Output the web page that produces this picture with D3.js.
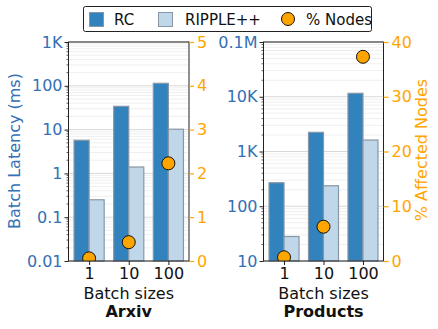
<!DOCTYPE html>
<html>
<head>
<meta charset="utf-8">
<script src="https://cdn.jsdelivr.net/npm/d3@7"></script>
<style>
  body { margin: 0; background: #fff; }
  text { font-family: "DejaVu Sans", sans-serif; }
</style>
</head>
<body>
<div id="chart"></div>
<script>
// data
const batchSizes = ["1", "10", "100"];
const arxivRC = [5.7, 34, 114];
const arxivRipple = [0.25, 1.4, 10.2];
const arxivNodes = [0.06, 0.43, 2.23];
const productsRC = [269, 2240, 11560];
const productsRipple = [28, 237, 1620];
const productsNodes = [0.68, 6.26, 37.3];

const arxivTicks = [0.01, 0.1, 1, 10, 100, 1000];
const arxivTickLabels = ["0.01", "0.1", "1", "10", "100", "1K"];
const productsTicks = [10, 100, 1000, 10000, 100000];
const productsTickLabels = ["10", "100", "1K", "10K", "0.1M"];
const arxivNodeTicks = [0, 1, 2, 3, 4, 5];
const productsNodeTicks = [0, 10, 20, 30, 40];

const blueText = "#3370b5";
const rcColor = "#3182bd";
const rippleColor = "#bfd7e9";
const orange = "#ffa500";

var width = 438, height = 329;
var plotTop = 42, plotBottom = 261;

var svg = d3.select("#chart")
  .append("svg")
    .attr("width", width)
    .attr("height", height);

function panel(opts) {
  var x0 = opts.x0, x1 = opts.x1;
  var g = svg.append("g");

  var x = d3.scaleLinear().domain([-0.52, 2.52]).range([x0, x1]);
  var y = d3.scaleLog().domain(opts.yDomain).range([plotBottom, plotTop]);
  var y2 = d3.scaleLinear().domain(opts.y2Domain).range([plotBottom, plotTop]);
  var bw = 0.38;

  // log grid, minor then major
  var minor = [];
  var lo = Math.log10(opts.yDomain[0]), hi = Math.log10(opts.yDomain[1]);
  for (var e = lo; e < hi; e++) {
    for (var m = 2; m < 10; m++) minor.push(m * Math.pow(10, e));
  }
  g.append("g").selectAll("line")
    .data(minor).enter().append("line")
      .attr("x1", x0).attr("x2", x1)
      .attr("y1", d => y(d)).attr("y2", d => y(d))
      .style("stroke", "#ebebeb").style("stroke-width", 0.8);
  g.append("g").selectAll("line")
    .data(opts.yTicks).enter().append("line")
      .attr("x1", x0).attr("x2", x1)
      .attr("y1", d => y(d)).attr("y2", d => y(d))
      .style("stroke", "#d8d8d8").style("stroke-width", 1);

  // bars
  g.append("g").selectAll("rect")
    .data(opts.rc).enter().append("rect")
      .attr("x", (d, i) => x(i - bw))
      .attr("width", x(bw) - x(0))
      .attr("y", d => y(d))
      .attr("height", d => plotBottom - y(d))
      .style("fill", rcColor)
      .style("stroke", "#8797a6").style("stroke-width", 1.2);
  g.append("g").selectAll("rect")
    .data(opts.ripple).enter().append("rect")
      .attr("x", (d, i) => x(i))
      .attr("width", x(bw) - x(0))
      .attr("y", d => y(d))
      .attr("height", d => plotBottom - y(d))
      .style("fill", rippleColor)
      .style("stroke", "#8797a6").style("stroke-width", 1.2);

  // % nodes markers, clipped to plot area
  var clipId = "clip" + opts.id;
  svg.append("clipPath").attr("id", clipId)
    .append("rect").attr("x", x0).attr("y", plotTop).attr("width", x1 - x0).attr("height", plotBottom - plotTop);
  g.append("g").attr("clip-path", "url(#" + clipId + ")")
    .selectAll("circle")
    .data(opts.nodes).enter().append("circle")
      .attr("cx", (d, i) => x(i))
      .attr("cy", d => y2(d))
      .attr("r", 6.5)
      .style("fill", orange)
      .style("stroke", "#111").style("stroke-width", 1);

  // frame
  g.append("rect")
    .attr("x", x0).attr("y", plotTop)
    .attr("width", x1 - x0).attr("height", plotBottom - plotTop)
    .style("fill", "none").style("stroke", "#222").style("stroke-width", 1);

  // left axis
  var left = g.append("g").attr("transform", "translate(" + x0 + ",0)");
  left.call(d3.axisLeft(y).tickValues(opts.yTicks)
      .tickFormat((d, i) => opts.yTickLabels[i]).tickSize(4).tickPadding(2))
    .call(a => a.select(".domain").remove());
  left.selectAll(".tick line").style("stroke", "#222");
  left.selectAll(".tick text").style("fill", blueText)
    .style("font-size", "16px").style("font-family", "DejaVu Sans");
  left.append("g").selectAll("line")
    .data(minor).enter().append("line")
      .attr("x1", -2).attr("x2", 0)
      .attr("y1", d => y(d)).attr("y2", d => y(d))
      .style("stroke", "#222").style("stroke-width", 0.7);

  // right axis
  var right = g.append("g").attr("transform", "translate(" + x1 + ",0)");
  right.call(d3.axisRight(y2).tickValues(opts.y2Ticks)
      .tickFormat(d3.format("d")).tickSize(5).tickPadding(3))
    .call(a => a.select(".domain").remove());
  right.selectAll(".tick line").style("stroke", orange).style("stroke-width", 1.2);
  right.selectAll(".tick text").style("fill", orange)
    .style("font-size", "16px").style("font-family", "DejaVu Sans");

  // bottom axis
  var xb = g.append("g").attr("transform", "translate(0," + plotBottom + ")");
  xb.call(d3.axisBottom(x).tickValues([0, 1, 2])
      .tickFormat(i => batchSizes[i]).tickSize(4).tickPadding(3))
    .call(a => a.select(".domain").remove());
  xb.selectAll(".tick line").style("stroke", "#222");
  xb.selectAll(".tick text").style("fill", "#111")
    .style("font-size", "16px").style("font-family", "DejaVu Sans");

  var cx = (x0 + x1) / 2;
  g.append("text")
    .attr("x", cx).attr("y", 298.5)
    .attr("text-anchor", "middle")
    .style("font-size", "16px").style("fill", "#111")
    .text("Batch sizes");
  g.append("text")
    .attr("x", cx).attr("y", 317)
    .attr("text-anchor", "middle")
    .style("font-size", "16px").style("font-weight", "bold").style("fill", "#111")
    .text(opts.title);
}

panel({
  id: "a", x0: 68.5, x1: 189, title: "Arxiv",
  yDomain: [0.01, 1000], yTicks: arxivTicks, yTickLabels: arxivTickLabels,
  y2Domain: [0, 5], y2Ticks: arxivNodeTicks,
  rc: arxivRC, ripple: arxivRipple, nodes: arxivNodes
});
panel({
  id: "b", x0: 263.5, x1: 383.5, title: "Products",
  yDomain: [10, 100000], yTicks: productsTicks, yTickLabels: productsTickLabels,
  y2Domain: [0, 40], y2Ticks: productsNodeTicks,
  rc: productsRC, ripple: productsRipple, nodes: productsNodes
});

// axis titles
svg.append("text")
  .attr("transform", "translate(20,151) rotate(-90)")
  .attr("text-anchor", "middle")
  .style("font-size", "16px").style("fill", blueText)
  .text("Batch Latency (ms)");
svg.append("text")
  .attr("transform", "translate(427,150) rotate(-90)")
  .attr("text-anchor", "middle")
  .style("font-size", "16px").style("fill", orange)
  .text("% Affected Nodes");

// legend
var legend = svg.append("g");
legend.append("rect")
  .attr("x", 83.5).attr("y", 6.5).attr("width", 288).attr("height", 25).attr("rx", 2)
  .style("fill", "#fff").style("stroke", "#222").style("stroke-width", 1);
legend.append("rect").attr("x", 89.5).attr("y", 12.5).attr("width", 14).attr("height", 14)
  .style("fill", rcColor).style("stroke", "#8797a6");
legend.append("text").attr("x", 114).attr("y", 25).style("font-size", "15px").style("fill", "#111").text("RC");
legend.append("rect").attr("x", 158.5).attr("y", 12.5).attr("width", 14).attr("height", 14)
  .style("fill", rippleColor).style("stroke", "#8797a6");
legend.append("text").attr("x", 185).attr("y", 25).style("font-size", "15px").style("fill", "#111").text("RIPPLE++");
legend.append("circle").attr("cx", 288).attr("cy", 19).attr("r", 6.5)
  .style("fill", orange).style("stroke", "#111");
legend.append("text").attr("x", 306).attr("y", 25).style("font-size", "15px").style("fill", "#111").text("% Nodes");
</script>
</body>
</html>
